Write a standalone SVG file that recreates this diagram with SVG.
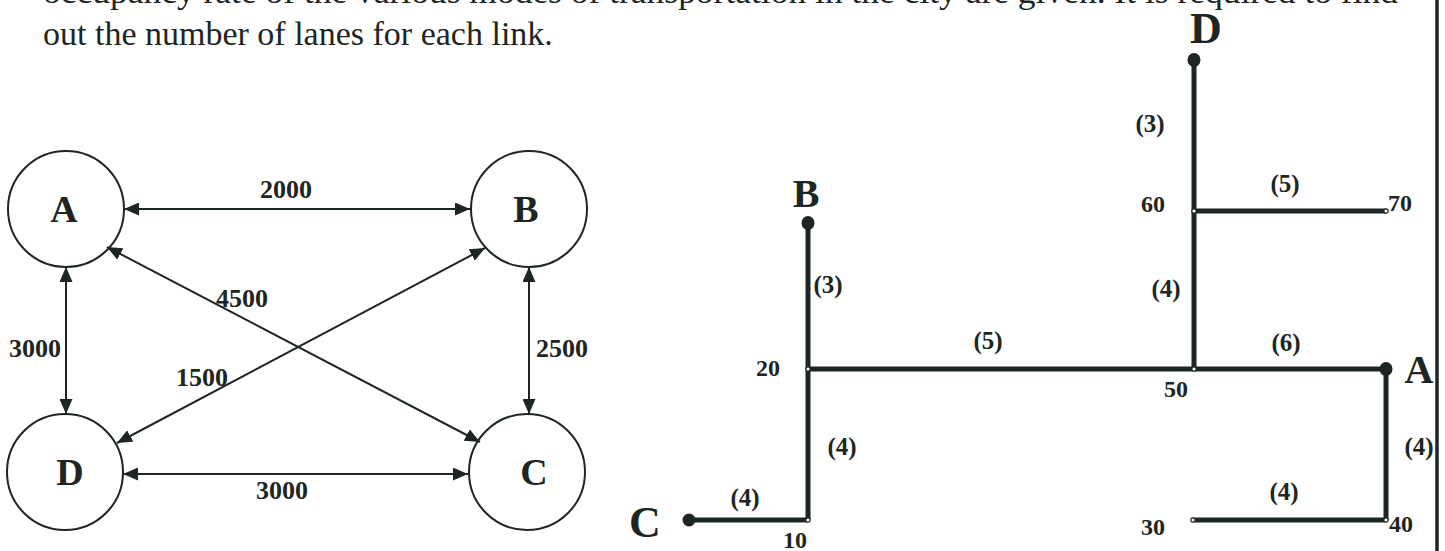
<svg xmlns="http://www.w3.org/2000/svg" width="1445" height="551" viewBox="0 0 1445 551">
<defs>
<style>
.t{font-family:"Liberation Serif","Times New Roman",serif;fill:#1d2622}
.node{fill:none;stroke:#1d2622;stroke-width:2}
.lbl{font-family:"Liberation Serif","Times New Roman",serif;font-weight:bold;fill:#1d2622;text-anchor:middle}
.arrow{stroke:#1d2622;stroke-width:2;fill:none;marker-start:url(#ah);marker-end:url(#ah)}
.road{stroke:#1d2622;stroke-width:5;fill:none}
.dot{fill:#1d2622}
.sm{fill:#fff;stroke:#1d2622;stroke-width:1.2}
</style>
<marker id="ah" viewBox="0 0 15 13" refX="15" refY="6.5" markerWidth="15" markerHeight="13" markerUnits="userSpaceOnUse" orient="auto-start-reverse">
<path d="M0,0 L15,6.5 L0,13 z" fill="#1d2622"/>
</marker>
</defs>
<rect width="1445" height="551" fill="#fff"/>

<g id="header">
<text class="t" x="43" y="3" font-size="34" textLength="1355" lengthAdjust="spacingAndGlyphs">occupancy rate of the various modes of transportation in the city are given. It is required to find</text>
<text class="t" x="43" y="45" font-size="34">out the number of lanes for each link.</text>
</g>

<g id="connectors">
<line class="arrow" x1="124" y1="209" x2="470" y2="209"/>
<line class="arrow" x1="66" y1="267" x2="66" y2="414"/>
<line class="arrow" x1="529" y1="267" x2="529" y2="414"/>
<line class="arrow" x1="123" y1="474" x2="468" y2="474"/>
<line class="arrow" x1="107" y1="247" x2="480" y2="442"/>
<line class="arrow" x1="117" y1="443" x2="485" y2="248"/>
</g>

<g id="flow-labels">
<text class="lbl" x="286" y="198" font-size="26">2000</text>
<text class="lbl" x="242" y="307" font-size="26">4500</text>
<text class="lbl" x="35" y="357" font-size="26">3000</text>
<text class="lbl" x="562" y="357" font-size="26">2500</text>
<text class="lbl" x="202" y="386" font-size="26">1500</text>
<text class="lbl" x="282" y="499" font-size="26">3000</text>
</g>

<g id="node-A"><circle class="node" cx="66" cy="209" r="58"/><text class="lbl" x="64" y="222" font-size="38">A</text></g>
<g id="node-B"><circle class="node" cx="529" cy="209" r="58"/><text class="lbl" x="526" y="222" font-size="38">B</text></g>
<g id="node-D"><circle class="node" cx="65" cy="472" r="58"/><text class="lbl" x="70" y="485" font-size="38">D</text></g>
<g id="node-C"><circle class="node" cx="527" cy="472" r="58"/><text class="lbl" x="534" y="485" font-size="38">C</text></g>

<g id="roads">
<line class="road" x1="1194" y1="60" x2="1194" y2="369"/>
<line class="road" x1="1194" y1="211" x2="1386" y2="211"/>
<line class="road" x1="808" y1="223" x2="808" y2="520"/>
<line class="road" x1="808" y1="369" x2="1386" y2="369"/>
<line class="road" x1="1386" y1="369" x2="1386" y2="520"/>
<line class="road" x1="1193" y1="520" x2="1386" y2="520"/>
<line class="road" x1="689" y1="520" x2="808" y2="520"/>
</g>

<g id="net-D"><ellipse class="dot" cx="1194" cy="60" rx="6.5" ry="7"/><text class="lbl" x="1206" y="43" font-size="44">D</text></g>
<g id="net-B"><ellipse class="dot" cx="808" cy="223" rx="6.5" ry="7"/><text class="lbl" x="806" y="207" font-size="40">B</text></g>
<g id="net-A"><ellipse class="dot" cx="1386" cy="369" rx="6.5" ry="7"/><text class="lbl" x="1419" y="383" font-size="40">A</text></g>
<g id="net-C"><ellipse class="dot" cx="689" cy="520" rx="6.5" ry="6.5"/><text class="lbl" x="645" y="537" font-size="44">C</text></g>
<g id="net-60"><circle class="sm" cx="1194" cy="211" r="2.2"/><text class="lbl" x="1153" y="212" font-size="24">60</text></g>
<g id="net-70"><circle class="sm" cx="1386" cy="211" r="2.2"/><text class="lbl" x="1400" y="211" font-size="24">70</text></g>
<g id="net-20"><circle class="sm" cx="808" cy="369" r="2.2"/><text class="lbl" x="768" y="376" font-size="24">20</text></g>
<g id="net-50"><circle class="sm" cx="1194" cy="369" r="2.2"/><text class="lbl" x="1176" y="397" font-size="24">50</text></g>
<g id="net-10"><circle class="sm" cx="808" cy="520" r="2.2"/><text class="lbl" x="795" y="548" font-size="24">10</text></g>
<g id="net-30"><circle class="sm" cx="1193" cy="520" r="2.2"/><text class="lbl" x="1153" y="535" font-size="24">30</text></g>
<g id="net-40"><circle class="sm" cx="1386" cy="520" r="2.2"/><text class="lbl" x="1401" y="532" font-size="24">40</text></g>

<g id="lane-labels">
<text class="lbl" x="1150" y="132" font-size="25">(3)</text>
<text class="lbl" x="1285" y="192" font-size="25">(5)</text>
<text class="lbl" x="1166" y="297" font-size="25">(4)</text>
<text class="lbl" x="828" y="293" font-size="25">(3)</text>
<text class="lbl" x="988" y="349" font-size="25">(5)</text>
<text class="lbl" x="1286" y="351" font-size="25">(6)</text>
<text class="lbl" x="842" y="455" font-size="25">(4)</text>
<text class="lbl" x="1419" y="455" font-size="25">(4)</text>
<text class="lbl" x="1284" y="500" font-size="25">(4)</text>
<text class="lbl" x="745" y="506" font-size="25">(4)</text>
</g>

<line x1="1437" y1="0" x2="1437" y2="551" stroke="#1d2622" stroke-width="3.5"/>
</svg>
